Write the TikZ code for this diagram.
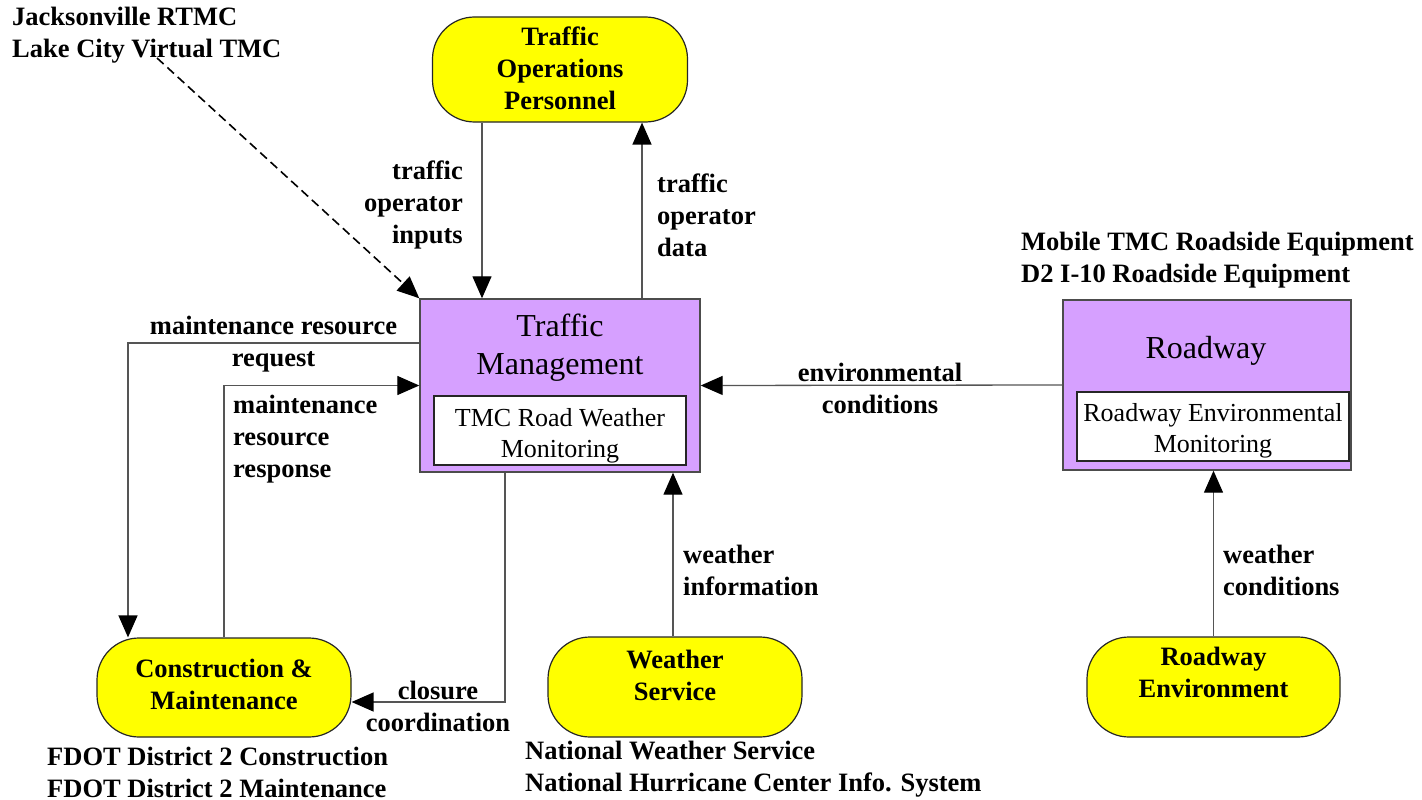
\documentclass[tikz,border=0pt]{standalone}
\usepackage{fontspec}
\setmainfont{Liberation Serif}
\usetikzlibrary{arrows.meta}
\definecolor{ylw}{RGB}{255,255,0}
\definecolor{prp}{RGB}{214,160,255}
\definecolor{edge}{RGB}{85,85,85}
\begin{document}
\begin{tikzpicture}[x=1pt,y=-1pt,
  lbl/.style={font=\bfseries\fontsize{26.5}{32}\selectfont, inner sep=0pt},
  ttl/.style={font=\fontsize{32}{37.5}\selectfont, inner sep=0pt, align=center},
  sub/.style={font=\fontsize{26}{31}\selectfont, inner sep=0pt, align=center},
  ybox/.style={draw=black!85, fill=ylw, line width=1.2pt, rounded corners=42pt, inner sep=0pt},
  pbox/.style={draw=black!70, fill=prp, line width=1.4pt, inner sep=0pt},
  wbox/.style={draw=black!85, fill=white, line width=1.2pt, inner sep=0pt},
  conn/.style={draw=edge, line width=1.3pt},
  tip/.style={-{Triangle[length=22pt,width=19pt,color=black]}},
  dashln/.style={draw=black, line width=1.6pt, dash pattern=on 9pt off 5pt}
]
\useasboundingbox (0,0) rectangle (1422,800);

% boxes
\node[ybox, minimum width=255pt, minimum height=105pt] (top) at (560,69.5) {};
\node[lbl, align=center] (toptxt) at (560,68) {Traffic\\Operations\\Personnel};

\node[pbox, minimum width=280pt, minimum height=173pt] (tm) at (560,385.5) {};
\node[ttl] (tmtxt) at (560,347.5) {Traffic\\Management};
\node[wbox, minimum width=252pt, minimum height=69pt] (tmin) at (560,430.5) {};
\node[sub] (tmintxt) at (560,436) {TMC Road Weather\\Monitoring};

\node[pbox, minimum width=288pt, minimum height=170pt] (rw) at (1207,385) {};
\node[ttl] (rwtxt) at (1206,351) {Roadway};
\node[wbox, minimum width=272pt, minimum height=69pt] (rwin) at (1213,426.5) {};
\node[sub] (rwintxt) at (1213,431) {Roadway Environmental\\Monitoring};

\node[ybox, minimum width=254pt, minimum height=99pt] (cm) at (224,687.5) {};
\node[lbl, align=center] (cmtxt) at (224,684) {Construction \&\\Maintenance};

\node[ybox, minimum width=254pt, minimum height=100pt] (ws) at (675,687) {};
\node[lbl, align=center] (wstxt) at (675,675) {Weather\\Service};

\node[ybox, minimum width=253pt, minimum height=100pt] (re) at (1213.5,687) {};
\node[lbl, align=center] (retxt) at (1213.5,672.5) {Roadway\\Environment};

% annotations
\node[lbl, anchor=west, align=left] (jax) at (12,35.5) {Jacksonville RTMC\\Lake City Virtual TMC};
\node[lbl, anchor=west, align=left] (mob) at (1021,260) {Mobile TMC Roadside Equipment\\D2 I-10 Roadside Equipment};
\node[lbl, anchor=west, align=left] (fdot) at (47,772) {FDOT District 2 Construction\\FDOT District 2 Maintenance};
\node[lbl, anchor=west, align=left] (nws) at (525,769) {National Weather Service\\National Hurricane Center Info. System};
\coordinate (jaxend) at (157,58);

% connectors
\draw[dashln, tip] (jaxend) -- (tm.north west);
\draw[conn, tip] ([xshift=-78pt]top.south) -- ([xshift=-78pt]tm.north);
\draw[conn, tip] ([xshift=82pt]tm.north) -- ([xshift=82pt]top.south);
\draw[conn, tip] ([yshift=42.5pt]tm.west) -| ([xshift=-96pt]cm.north);
\draw[conn, tip] (cm.north) |- (tm.west);
\draw[conn, tip] ([xshift=-55pt]tm.south) |- ([yshift=-14.5pt]cm.east);
\draw[conn, tip] ([xshift=-2pt]ws.north) -- ([xshift=113pt]tm.south);
\draw[conn, tip] (rw.west) -- (tm.east);
\draw[conn, tip] (re.north) -- ([xshift=6.5pt]rw.south);

% connector labels
\node[lbl, anchor=east, align=right] (l1) at (463,205) {traffic\\operator\\inputs};
\node[lbl, anchor=west, align=left] (l2) at (657,215) {traffic\\operator\\data};
\node[lbl, align=center] (l3) at (273.5,344.5) {maintenance resource\\request};
\node[lbl, anchor=west, align=left] (l4) at (233,439) {maintenance\\resource\\response};
\node[lbl, align=center] (l5) at (880,388) {environmental\\conditions};
\node[lbl, align=center] (l6) at (438,706) {closure\\coordination};
\node[lbl, anchor=west, align=left] (l7) at (683,570) {weather\\information};
\node[lbl, anchor=west, align=left] (l8) at (1223,570) {weather\\conditions};
\end{tikzpicture}
\end{document}
